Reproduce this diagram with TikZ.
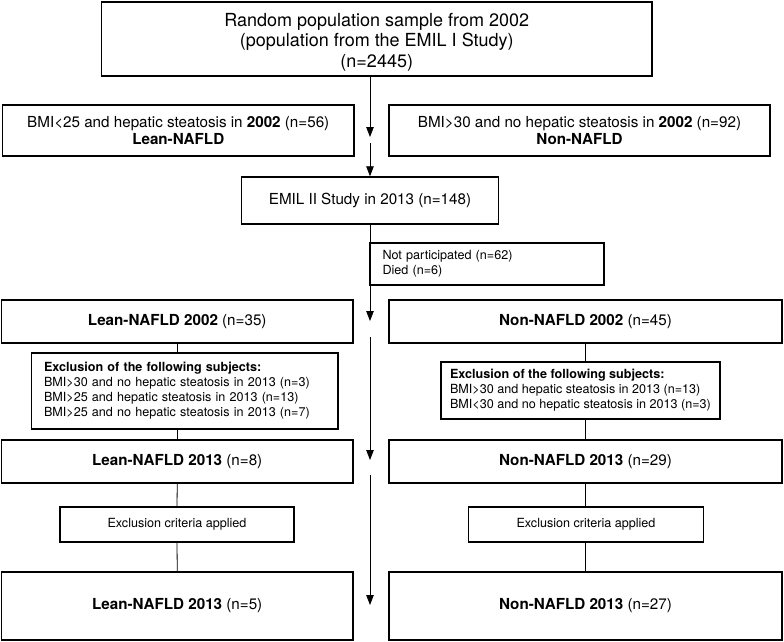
\documentclass[tikz,border=0pt]{standalone}
\usepackage{fontspec}
\setmainfont{TeX Gyre Heros}
\usetikzlibrary{arrows.meta,calc}
\begin{document}
\begin{tikzpicture}[x=1pt,y=-1pt,
  box/.style={draw, line width=1.4pt, rectangle, inner sep=0pt, align=center},
  frame/.style args={#1/#2/#3/#4}{minimum width={#3-#1}, minimum height={#4-#2}, at={({(#1+#3)/2},{(#2+#4)/2})}},
  big/.style={font=\fontsize{18}{20.5}\selectfont},
  mid/.style={font=\fontsize{15.2}{16.5}\selectfont},
  small/.style={font=\fontsize{12.6}{15}\selectfont},
  lbox/.style={align=left, inner xsep=12.5pt},
  conn/.style={line width=0.8pt},
  arr/.style={conn, -{Triangle[width=7.5pt,length=10pt]}}]
\useasboundingbox (0,0) rectangle (784,641);

\node[box,big,frame=101.5/2/652/76] (top) {\rule{0pt}{19pt}Random population sample from 2002\\(population from the EMIL I Study)\\(n=2445)};
\node[box,mid,frame=2.5/105/354/156] (bmiL) {BMI<25 and hepatic steatosis in \textbf{2002} (n=56)\\\textbf{Lean-NAFLD}};
\node[box,mid,frame=389/105/770/156] (bmiR) {BMI>30 and no hepatic steatosis in \textbf{2002} (n=92)\\\textbf{Non-NAFLD}};
\node[box,mid,frame=241.5/177/498.5/224] (emil) {EMIL II Study in 2013 (n=148)};
\node[box,small,lbox,text width=209pt,frame=370/243/604/285] (notp) {Not participated (n=62)\\Died (n=6)};
\node[box,mid,frame=1.5/300/353/343] (lean02) {\textbf{Lean-NAFLD 2002} (n=35)};
\node[box,mid,frame=389/300/782/343] (non02) {\textbf{Non-NAFLD 2002} (n=45)};
\node[box,small,lbox,text width=281.5pt,frame=31.5/353/338/429] (exclL) {\textbf{Exclusion of the following subjects:}\\BMI>30 and no hepatic steatosis in 2013 (n=3)\\BMI>25 and hepatic steatosis in 2013 (n=13)\\BMI>25 and no hepatic steatosis in 2013 (n=7)};
\node[box,small,align=left,frame=441/362/720/419] (exclR) {\textbf{Exclusion of the following subjects:}\\BMI>30 and hepatic steatosis in 2013 (n=13)\\BMI<30 and no hepatic steatosis in 2013 (n=3)};
\node[box,mid,frame=1.5/440/353/483] (lean13) {\textbf{Lean-NAFLD 2013} (n=8)};
\node[box,mid,frame=389/440/782/483] (non13) {\textbf{Non-NAFLD 2013} (n=29)};
\node[box,small,frame=60/507/294/542] (critL) {Exclusion criteria applied};
\node[box,small,frame=468.5/507/703.5/542] (critR) {Exclusion criteria applied};
\node[box,mid,frame=1.5/572/353/640] (finL) {\textbf{Lean-NAFLD 2013} (n=5)};
\node[box,mid,frame=389/572/782/640] (finR) {\textbf{Non-NAFLD 2013} (n=27)};

% central flow
\coordinate (t1) at (370,137);
\coordinate (s1) at (370,143);
\coordinate (t2) at (370,321);
\coordinate (s2) at (370,337);
\coordinate (t3) at (370,460);
\coordinate (s3) at (370,475);
\coordinate (t4) at (370,605);
\draw[arr] (t1 |- top.south) -- (t1);
\draw[arr] (s1) -- (emil.north);
\draw[arr] (emil.south) -- (t2);
\draw[arr] (s2) -- (t3);
\draw[arr] (s3) -- (t4);

% left column
\draw[conn] (lean02.south) -- (lean02.south |- exclL.north);
\draw[conn] (lean13.north |- exclL.south) -- (lean13.north);
\draw[conn] (lean13.south) -- (critL.north);
\draw[conn] (critL.south) -- (finL.north);
% right column
\draw[conn] (non02.south) -- (non02.south |- exclR.north);
\draw[conn] (non13.north |- exclR.south) -- (non13.north);
\draw[conn] (non13.south) -- (non13.south |- critR.north);
\draw[conn] (critR.south -| finR.north) -- (finR.north);
\end{tikzpicture}
\end{document}
